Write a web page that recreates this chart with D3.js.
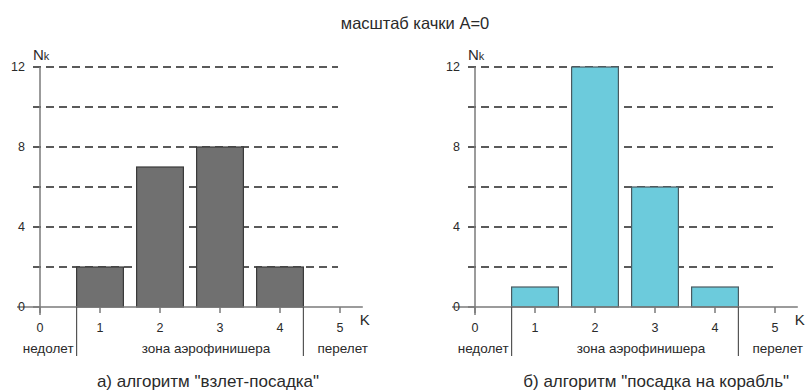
<!DOCTYPE html>
<html>
<head>
<meta charset="utf-8">
<script src="https://cdn.jsdelivr.net/npm/d3@7"></script>
<style>
  html, body { margin: 0; padding: 0; background: #fff; }
  svg { display: block; font-family: "Liberation Sans", Arial, sans-serif; }
</style>
</head>
<body>
<svg id="chart" width="807" height="392"></svg>
<script>
// Landing distribution histograms: number of landings N_k per zone K
const title = "масштаб качки A=0";
const kValues = [1, 2, 3, 4];
const countsTakeoffLanding = [2, 7, 8, 2];
const countsShipLanding = [1, 12, 6, 1];
const xTicks = [0, 1, 2, 3, 4, 5];
const yTicks = [0, 4, 8, 12];
const yGrid = [2, 4, 6, 8, 10, 12];
const zoneLabels = ["недолет", "зона аэрофинишера", "перелет"];
const subtitles = ['а) алгоритм "взлет-посадка"', 'б) алгоритм "посадка на корабль"'];

const svg = d3.select("#chart");
const textColor = "#2a2a2a";

svg.append("text")
  .attr("x", 415).attr("y", 29)
  .attr("text-anchor", "middle")
  .attr("font-size", 16.5)
  .attr("fill", textColor)
  .text(title);

function panel(originX, counts, fill, stroke, subtitle, captionK) {
  const x = d3.scaleLinear().domain([0, 5]).range([originX, originX + 300]);
  const y = d3.scaleLinear().domain([0, 12]).range([307, 67]);
  const barW = 0.78; // bar width in K units
  const g = svg.append("g");

  // dashed grid lines every 2 units
  g.selectAll(".grid").data(yGrid).join("line")
    .attr("x1", x(0) - 7).attr("x2", x(5) - 2)
    .attr("y1", d => y(d)).attr("y2", d => y(d))
    .attr("stroke", "#5a5a5a").attr("stroke-width", 2)
    .attr("stroke-dasharray", "8,5");

  // bars
  g.selectAll(".bar").data(kValues.map((k, i) => ({k, v: counts[i]}))).join("rect")
    .attr("x", d => x(d.k - barW / 2))
    .attr("width", x(barW) - x(0))
    .attr("y", d => y(d.v))
    .attr("height", d => y(0) - y(d.v))
    .attr("fill", fill)
    .attr("stroke", stroke)
    .attr("stroke-width", 1.2);

  // axes
  g.append("line")
    .attr("x1", x(0)).attr("x2", x(0))
    .attr("y1", y(12)).attr("y2", y(0) + 8)
    .attr("stroke", "#7a7a7a").attr("stroke-width", 1.5);
  g.append("line")
    .attr("x1", x(0) - 23).attr("x2", x(5.38))
    .attr("y1", y(0)).attr("y2", y(0))
    .attr("stroke", "#7a7a7a").attr("stroke-width", 1.5);

  // x ticks and labels
  g.selectAll(".xt").data(xTicks).join("line")
    .attr("x1", d => x(d)).attr("x2", d => x(d))
    .attr("y1", y(0)).attr("y2", y(0) + 6)
    .attr("stroke", "#7a7a7a").attr("stroke-width", 1.5);
  g.selectAll(".xl").data(xTicks).join("text")
    .attr("x", d => x(d)).attr("y", 332)
    .attr("text-anchor", "middle")
    .attr("font-size", 12.5).attr("fill", textColor)
    .text(d => d);

  // y tick labels
  g.selectAll(".yl").data(yTicks).join("text")
    .attr("x", x(0) - 15).attr("y", d => y(d) + 4)
    .attr("text-anchor", "end")
    .attr("font-size", 12.5).attr("fill", textColor)
    .text(d => d);
  g.append("line")
    .attr("x1", x(0) - 7).attr("x2", x(0))
    .attr("y1", y(0)).attr("y2", y(0))
    .attr("stroke", "#7a7a7a").attr("stroke-width", 1.5);

  // axis names
  const nk = g.append("text")
    .attr("x", x(0) - 7).attr("y", 60)
    .attr("fill", textColor);
  nk.append("tspan").attr("font-size", 15).text("N");
  nk.append("tspan").attr("font-size", 11).text("k");
  g.append("text")
    .attr("x", x(5.33)).attr("y", 325)
    .attr("font-size", 15).attr("fill", textColor)
    .text("K");

  // zone separators at the outer bar edges
  const edges = [x(kValues[0] - barW / 2), x(kValues[kValues.length - 1] + barW / 2)];
  g.selectAll(".sep").data(edges).join("line")
    .attr("x1", d => d).attr("x2", d => d)
    .attr("y1", y(0)).attr("y2", 356)
    .attr("stroke", "#555").attr("stroke-width", 1.2);

  // zone labels
  g.append("text").attr("x", edges[0] - 3).attr("y", 353)
    .attr("text-anchor", "end").attr("font-size", 13.5).attr("fill", textColor)
    .text(zoneLabels[0]);
  g.append("text").attr("x", (edges[0] + edges[1]) / 2 + 16).attr("y", 353)
    .attr("text-anchor", "middle").attr("font-size", 13.5).attr("fill", textColor)
    .text(zoneLabels[1]);
  g.append("text").attr("x", edges[1] + 14).attr("y", 353)
    .attr("text-anchor", "start").attr("font-size", 13.5).attr("fill", textColor)
    .text(zoneLabels[2]);

  // panel caption
  g.append("text").attr("x", x(captionK)).attr("y", 387)
    .attr("text-anchor", "middle").attr("font-size", 17).attr("fill", textColor)
    .text(subtitle);
}

panel(40, countsTakeoffLanding, "#707070", "#3a3a3a", subtitles[0], 2.8);
panel(475, countsShipLanding, "#6ccbdc", "#4a5a60", subtitles[1], 3.02);
</script>
</body>
</html>
